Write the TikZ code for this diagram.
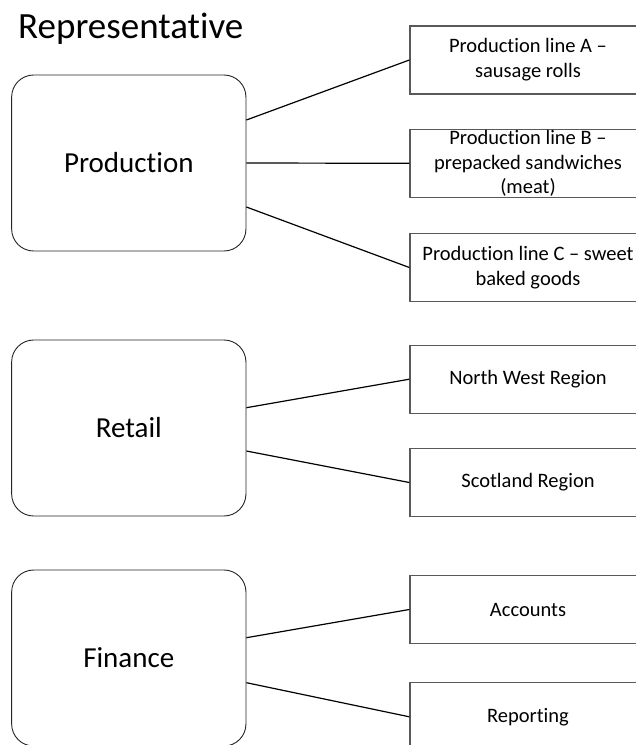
\documentclass[tikz,border=0pt]{standalone}
\usepackage{fontspec}
\setmainfont{Carlito}[Ligatures={NoCommon}]
\begin{document}
\begin{tikzpicture}[x=1pt,y=-1pt,
  bigbox/.style={draw=black!85, line width=0.9pt, rounded corners=22pt, minimum width=234.3pt, minimum height=176pt, inner sep=0pt, font=\fontsize{29}{35}\selectfont},
  subbox/.style={draw=black!65, line width=1.3pt, minimum width=236pt, minimum height=68pt, inner sep=0pt},
  subtext/.style={align=center, inner sep=0pt, font=\fontsize{20.5}{24.8}\selectfont},
  conn/.style={draw=black, line width=1.2pt}]
\useasboundingbox (0,0) rectangle (636,745);
\clip (0,0) rectangle (636,745);
\fill[white] (0,0) rectangle (636,745);

\node[anchor=base west, inner sep=0pt, font=\fontsize{37}{44}\selectfont] (title) at (18,38.5) {Representative};

% left boxes
\node[bigbox] (prod) at (128.8,163) {Production};
\node[bigbox] (ret) at (128.8,428) {Retail};
\node[bigbox] (fin) at (128.8,658) {Finance};

% right boxes
\node[subbox] (pa) at (528,60) {};
\node[subtext] (pat) at (pa) {Production line A –\\sausage rolls};
\node[subbox] (pb) at (528,163.3) {};
\node[subtext] (pbt) at (pb) {Production line B –\\prepacked sandwiches\\(meat)};
\node[subbox] (pc) at (528,267.5) {};
\node[subtext] (pct) at (pc) {Production line C – sweet\\baked goods};
\node[subbox] (nw) at (528,379.2) {};
\node[subtext] (nwt) at (nw) {North West Region};
\node[subbox] (sc) at (528,482.5) {};
\node[subtext] (sct) at (sc) {Scotland Region};
\node[subbox] (acc) at (528,609.5) {};
\node[subtext] (acct) at (acc) {Accounts};
\node[subbox] (rep) at (528,716.8) {};
\node[subtext] (rept) at (rep) {Reporting};

% connectors
\draw[conn] ([yshift=43pt]prod.east) -- (pa.west);
\draw[conn] (prod.east) -- (pb.west);
\draw[conn] ([yshift=-44pt]prod.east) -- (pc.west);
\draw[conn] ([yshift=20.3pt]ret.east) -- (nw.west);
\draw[conn] ([yshift=-23pt]ret.east) -- (sc.west);
\draw[conn] ([yshift=20.3pt]fin.east) -- (acc.west);
\draw[conn] ([yshift=-24.7pt]fin.east) -- (rep.west);
\end{tikzpicture}
\end{document}
